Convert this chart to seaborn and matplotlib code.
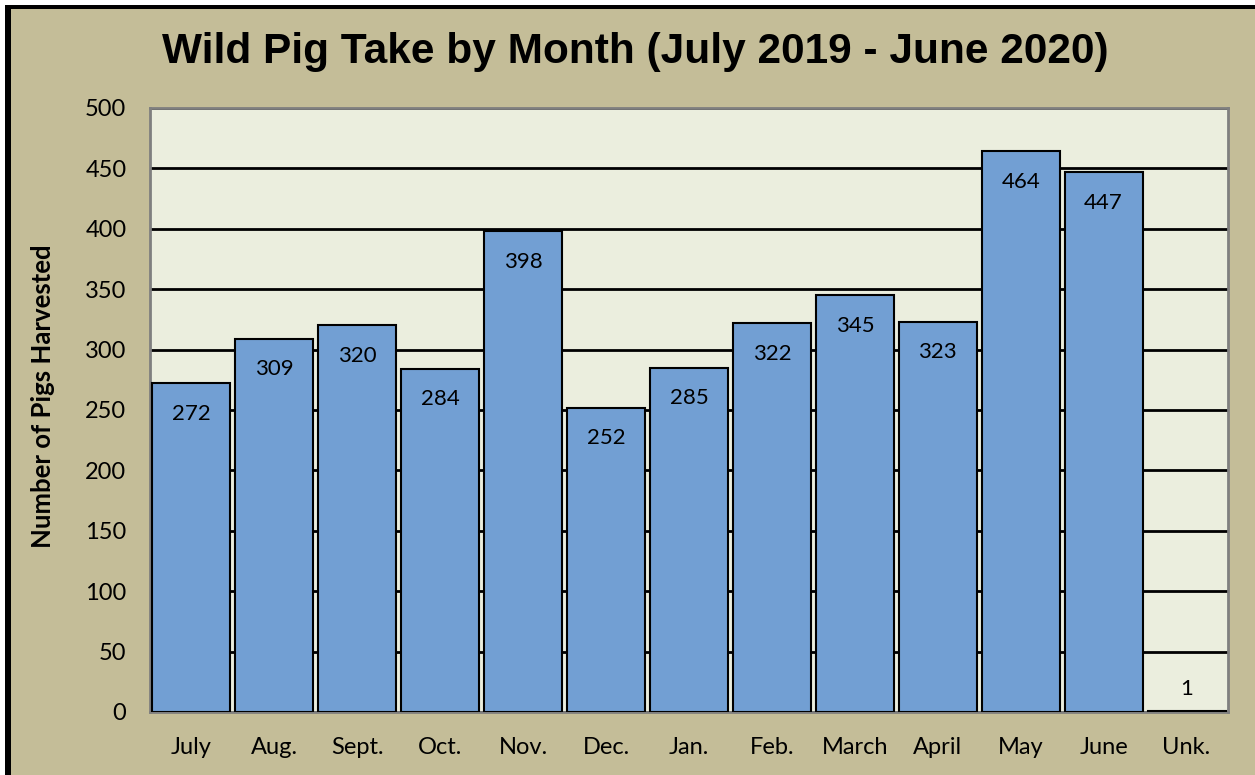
import matplotlib
matplotlib.use("Agg")
import matplotlib.pyplot as plt
import seaborn as sns
import pandas as pd
from matplotlib.patches import Rectangle

# --- Data ---
months = ["July", "Aug.", "Sept.", "Oct.", "Nov.", "Dec.", "Jan.", "Feb.",
          "March", "April", "May", "June", "Unk."]
pigs = [272, 309, 320, 284, 398, 252, 285, 322, 345, 323, 464, 447, 1]
y_ticks = [0, 50, 100, 150, 200, 250, 300, 350, 400, 450, 500]

df = pd.DataFrame({"month": months, "pigs": pigs})

# --- Style ---
sns.set_theme(style="white")
plt.rcParams["font.family"] = ["Lato", "DejaVu Sans"]
plt.rcParams["text.color"] = "black"
plt.rcParams["axes.labelcolor"] = "black"
plt.rcParams["xtick.color"] = "black"
plt.rcParams["ytick.color"] = "black"

fig_bg = "#C4BD98"
plot_bg = "#EBEEDE"
bar_color = "#729FD3"

fig = plt.figure(figsize=(12.55, 7.75), dpi=100)
fig.patch.set_facecolor("white")
# black frame on left/top, then tan panel
fig.patches.append(Rectangle((5 / 1255, -0.1), 1.2, 1 - 5 / 775 + 0.1,
                             transform=fig.transFigure, facecolor="black",
                             edgecolor="none", zorder=-2))
fig.patches.append(Rectangle((11 / 1255, -0.1), 1.2, 1 - 9 / 775 + 0.1,
                             transform=fig.transFigure, facecolor=fig_bg,
                             edgecolor="none", zorder=-1))

ax = fig.add_axes([150 / 1255, 63 / 775, 1078 / 1255, 604 / 775])
ax.set_facecolor(plot_bg)

sns.barplot(data=df, x="month", y="pigs", color=bar_color, saturation=1,
            edgecolor="black", linewidth=1.5, width=0.94, ax=ax, zorder=3)

ax.set_xlim(-0.5, len(months) - 0.5)
ax.set_ylim(0, 500)
ax.set_yticks(y_ticks)
ax.yaxis.grid(True, color="black", linewidth=2)
ax.set_axisbelow(True)
ax.tick_params(axis="y", length=0, pad=17, labelsize=17)
ax.tick_params(axis="x", length=0, pad=18, labelsize=17)
for s in ax.spines.values():
    s.set_color("#7F7F7F")
    s.set_linewidth(2)
    s.set_visible(True)

# value labels
for i, v in enumerate(pigs):
    if v > 50:
        ax.annotate(str(v), (i, v), xytext=(0, -22), textcoords="offset points",
                    ha="center", va="center", fontsize=16, zorder=5)
    else:
        ax.annotate(str(v), (i, v), xytext=(0, 16), textcoords="offset points",
                    ha="center", va="center", fontsize=16, zorder=5)

ax.set_xlabel("")
ax.set_ylabel("Number of Pigs Harvested", fontsize=18.5, fontweight="bold")
ax.yaxis.set_label_coords(-0.088, 0.523)

fig.text(635 / 1255, 1 - 52 / 775, "Wild Pig Take by Month (July 2019 - June 2020)",
         ha="center", va="center", fontsize=30.5, fontweight="bold",
         family="Liberation Sans")

fig.savefig("out.png", dpi=100, facecolor=fig.get_facecolor())
